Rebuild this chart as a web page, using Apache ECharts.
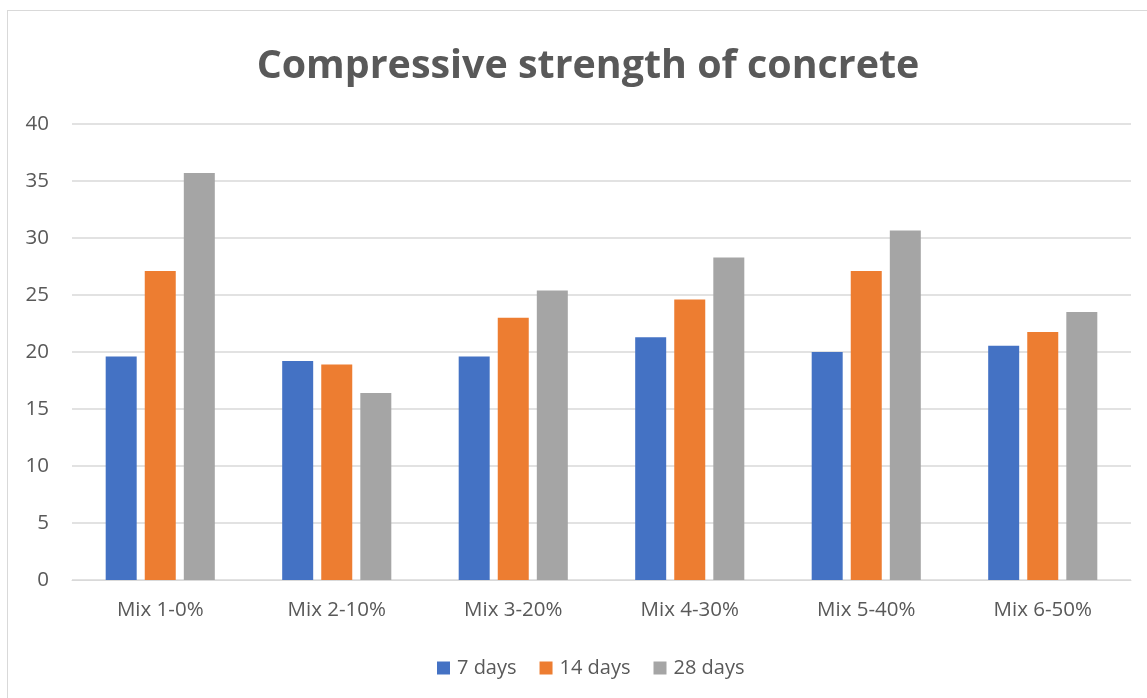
<!DOCTYPE html>
<html>
<head>
<meta charset="utf-8">
<script src="https://cdn.jsdelivr.net/npm/echarts@6/dist/echarts.min.js"></script>
<style>
html,body{margin:0;padding:0;background:#fff;}
#frame{position:absolute;left:7px;top:10px;width:1150px;height:700px;border:1px solid #d9d9d9;box-sizing:border-box;}
#chart{position:absolute;left:0;top:0;width:1147px;height:698px;}
</style>
</head>
<body>
<div id="frame"></div>
<div id="chart"></div>
<script>
const categories = ['Mix 1-0%', 'Mix 2-10%', 'Mix 3-20%', 'Mix 4-30%', 'Mix 5-40%', 'Mix 6-50%'];
const days7 = [19.6, 19.2, 19.6, 21.3, 20.0, 20.55];
const days14 = [27.1, 18.9, 23.0, 24.6, 27.1, 21.75];
const days28 = [35.7, 16.4, 25.4, 28.3, 30.65, 23.5];
const seriesNames = ['7 days', '14 days', '28 days'];
const colors = ['#4472c4', '#ed7d31', '#a5a5a5'];

const chart = echarts.init(document.getElementById('chart'));
const font = "'Open Sans', 'Liberation Sans', sans-serif";
chart.setOption({
  animation: false,
  color: colors,
  title: {
    text: 'Compressive strength of concrete',
    top: 42,
    left: 583,
    textAlign: 'center',
    textStyle: {fontFamily: font, fontSize: 39.4, fontWeight: 'bold', color: '#595959'}
  },
  legend: {
    top: 653,
    left: 432,
    itemWidth: 13,
    itemHeight: 13,
    itemGap: 23,
    icon: 'rect',
    textStyle: {fontFamily: font, fontSize: 20, color: '#595959', padding: [0, 0, 0, 2]},
    data: seriesNames
  },
  grid: {left: 72, right: 16, top: 124, bottom: 118, containLabel: false},
  xAxis: {
    type: 'category',
    data: categories,
    axisLine: {lineStyle: {color: '#d9d9d9'}},
    axisTick: {show: false},
    axisLabel: {fontFamily: font, fontSize: 20.5, color: '#595959', margin: 20}
  },
  yAxis: {
    type: 'value',
    min: 0, max: 40, interval: 5,
    axisLine: {show: false},
    axisTick: {show: false},
    splitLine: {lineStyle: {color: '#d9d9d9', width: 1.5}},
    axisLabel: {fontFamily: font, fontSize: 20.5, color: '#595959', margin: 23}
  },
  series: [
    {name: seriesNames[0], type: 'bar', data: days7, barWidth: 31, barGap: '26%'},
    {name: seriesNames[1], type: 'bar', data: days14, barWidth: 31, barGap: '26%'},
    {name: seriesNames[2], type: 'bar', data: days28, barWidth: 31, barGap: '26%'}
  ]
});
</script>
</body>
</html>
